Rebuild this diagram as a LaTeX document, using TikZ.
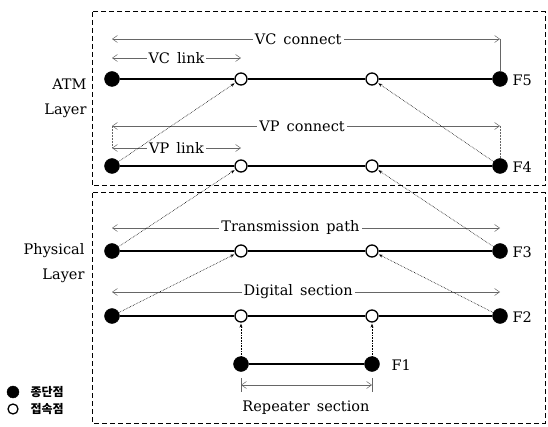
\documentclass[tikz,border=0pt]{standalone}
\usepackage{fontspec}
\setmainfont{DejaVu Serif}
\newfontfamily\krfont{Noto Sans CJK KR}
\usetikzlibrary{arrows.meta}

\begin{document}
\begin{tikzpicture}[
  x=1pt, y=-1pt,
  term/.style={circle, fill=black, draw=black, inner sep=0pt, minimum size=15pt},
  conn/.style={circle, fill=white, draw=black, line width=1.3pt, inner sep=0pt, minimum size=12pt},
  layer/.style={draw, line width=1pt, dash pattern=on 5pt off 3pt},
  seg/.style={line width=1.4pt},
  dim/.style={black!60, line width=0.5pt, {Straight Barb[length=5pt,width=7pt]}-{Straight Barb[length=5pt,width=7pt]}},
  ext/.style={black!60, line width=0.5pt},
  up/.style={densely dotted, line width=0.6pt, -{Stealth[length=4pt,width=3pt]}, shorten >=1pt},
  lbl/.style={fill=white, text=black, inner sep=2pt, font=\fontsize{14.5}{17}\selectfont},
  side/.style={align=right, anchor=east, font=\fontsize{14.5}{25}\selectfont},
  fname/.style={anchor=west, font=\fontsize{14.5}{17}\selectfont},
  leg/.style={anchor=west, font=\krfont\bfseries\fontsize{12}{14}\selectfont},
]
\useasboundingbox (0,0) rectangle (548,427);

% layer boxes
\draw[layer] (92,12) rectangle (545,186);
\draw[layer] (92,193) rectangle (545,423);
\node[side] (atm) at (90,98) {ATM\\Layer};
\node[side] (phy) at (88,263) {Physical\\Layer};

% F5 row
\node[term] (l5) at (112,79) {};
\node[conn] (a5) at (241,79) {};
\node[conn] (b5) at (372,79) {};
\node[term] (r5) at (500,79) {};
\node[fname] (f5) at (509,80) {F5};
% F4 row
\node[term] (l4) at (112,166) {};
\node[conn] (a4) at (241,166) {};
\node[conn] (b4) at (372,166) {};
\node[term] (r4) at (500,166) {};
\node[fname] (f4) at (509,167) {F4};
% F3 row
\node[term] (l3) at (112,251) {};
\node[conn] (a3) at (241,251) {};
\node[conn] (b3) at (372,251) {};
\node[term] (r3) at (500,251) {};
\node[fname] (f3) at (509,252) {F3};
% F2 row
\node[term] (l2) at (112,316) {};
\node[conn] (a2) at (241,316) {};
\node[conn] (b2) at (372,316) {};
\node[term] (r2) at (500,316) {};
\node[fname] (f2) at (509,317) {F2};
% F1 row
\node[term] (a1) at (241,364) {};
\node[term] (b1) at (372,364) {};
\node[fname] (f1) at (388,365) {F1};

\draw[seg] (l5) -- (a5) -- (b5) -- (r5);
\draw[seg] (l4) -- (a4) -- (b4) -- (r4);
\draw[seg] (l3) -- (a3) -- (b3) -- (r3);
\draw[seg] (l2) -- (a2) -- (b2) -- (r2);
\draw[seg] (a1) -- (b1);

% dimension marks
\coordinate (vc1) at (112,39);  \coordinate (vc2) at (500,39);
\coordinate (vl1) at (112,58);  \coordinate (vl2) at (241,58);
\coordinate (pc1) at (112,126); \coordinate (pc2) at (500,126);
\coordinate (pl1) at (112,148); \coordinate (pl2) at (241,148);
\coordinate (tp1) at (112,228); \coordinate (tp2) at (500,228);
\coordinate (ds1) at (112,292); \coordinate (ds2) at (500,292);
\coordinate (rs1) at (241,385); \coordinate (rs2) at (372,385);
\draw[ext] (vc2) -- (r5);
\draw[ext, densely dotted] (pc1) -- (pl1);
\draw[ext, densely dotted] (pc2) -- (r4);
\draw[ext] (241,378) -- (241,392);
\draw[ext] (372,378) -- (372,392);
\draw[dim] (vc1) -- (vc2) node[lbl, pos=0.48] (vctxt) {VC\, connect};
\draw[dim] (vl1) -- (vl2) node[lbl, pos=0.5] (vltxt) {VC\, link};
\draw[dim] (pc1) -- (pc2) node[lbl, pos=0.49] (pctxt) {VP\, connect};
\draw[dim] (pl1) -- (pl2) node[lbl, pos=0.5] (pltxt) {VP\, link};
\draw[dim] (tp1) -- (tp2) node[lbl, pos=0.46] (tptxt) {Transmission\, path};
\draw[dim] (ds1) -- (ds2) node[lbl, pos=0.48] (dstxt) {Digital\, section};
\draw[dim] (rs1) -- (rs2);
\node[lbl] (rstxt) at (306,408) {Repeater\, section};

% adaptation links
\draw[up] (l4) -- (a5);
\draw[up] (r4) -- (b5);
\draw[up] (l3) -- (a4);
\draw[up] (r3) -- (b4);
\draw[up] (l2) -- (a3);
\draw[up] (r2) -- (b3);
\draw[up] (a1) -- (a2);
\draw[up] (b1) -- (b2);

% legend
\node[term, minimum size=12pt] (kt) at (13,392) {};
\node[conn, minimum size=10pt] (kc) at (13,409) {};
\node[leg] (ktxt) at (27,392) {종단점};
\node[leg] (kctxt) at (27,409) {접속점};
\end{tikzpicture}
\end{document}
